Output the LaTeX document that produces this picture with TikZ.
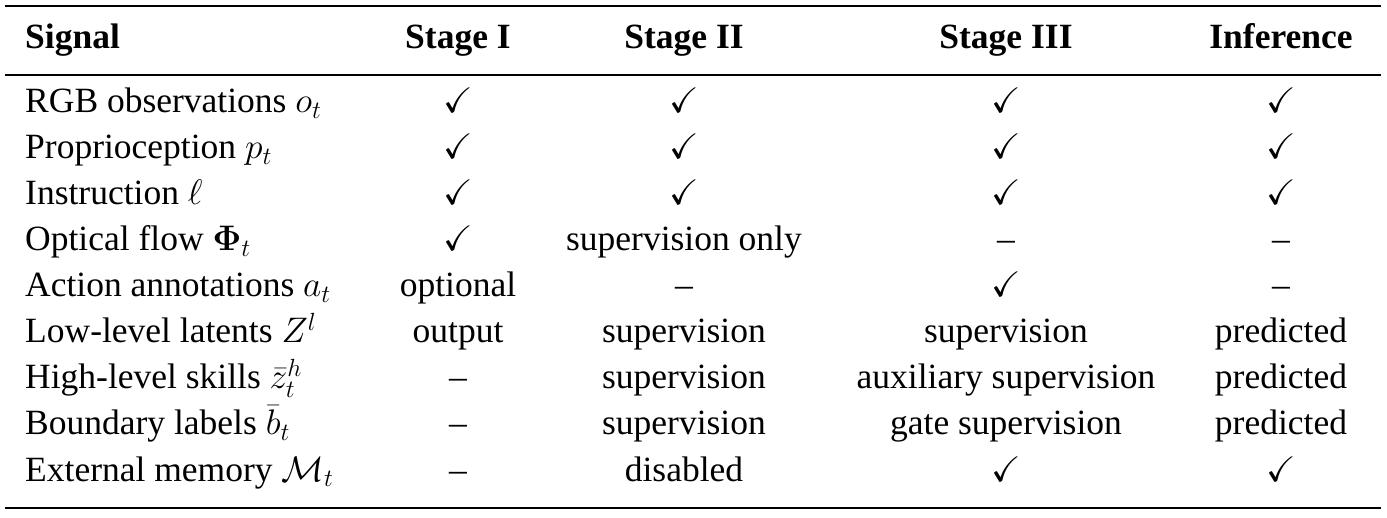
\RequirePackage{fix-cm}
\documentclass[tikz,border=0pt]{standalone}
\usepackage{amsmath,amssymb,bm}
\usepackage{fontspec}
\setmainfont{Liberation Serif}
\begin{document}
\begin{tikzpicture}[x=1pt,y=-1pt,
  every node/.style={font=\fontsize{35.5}{40}\selectfont,inner sep=0pt,anchor=base},
  lab/.style={anchor=base west},
  hd/.style={font=\fontsize{35.5}{40}\selectfont\bfseries}]
\useasboundingbox (0,0) rectangle (1387,518);
\draw[line width=2.6pt] (5,6) -- (1381,6);
\draw[line width=1.5pt] (5,75) -- (1381,75);
\draw[line width=2.6pt] (5,508) -- (1381,508);
\def\cA{458}\def\cB{684}\def\cC{1006}\def\cD{1281}
\node[hd,lab] (h0) at (25,49) {Signal};
\node[hd] (h1) at (\cA,49) {Stage I};
\node[hd] (h2) at (\cB,49) {Stage II};
\node[hd] (h3) at (\cC,49) {Stage III};
\node[hd] (h4) at (\cD,49) {Inference};
\foreach \y/\a/\b/\c/\d/\e [count=\i] in {
 113/{RGB observations $o_t$}/$\checkmark$/$\checkmark$/$\checkmark$/$\checkmark$,
 159/{Proprioception $p_t$}/$\checkmark$/$\checkmark$/$\checkmark$/$\checkmark$,
 205/{Instruction $\ell$}/$\checkmark$/$\checkmark$/$\checkmark$/$\checkmark$,
 251/{Optical flow $\bm{\Phi}_t$}/$\checkmark$/{supervision only}/–/–,
 297/{Action annotations $a_t$}/optional/–/$\checkmark$/–,
 343/{Low-level latents $Z^l$}/output/supervision/supervision/predicted,
 389/{High-level skills $\bar{z}_t^h$}/–/supervision/{auxiliary supervision}/predicted,
 435/{Boundary labels $\bar{b}_t$}/–/supervision/{gate supervision}/predicted,
 481/{External memory $\mathcal{M}_t$}/–/disabled/$\checkmark$/$\checkmark$}{
  \node[lab] (r\i a) at (25,\y) {\a};
  \node (r\i b) at (\cA,\y) {\b};
  \node (r\i c) at (\cB,\y) {\c};
  \node (r\i d) at (\cC,\y) {\d};
  \node (r\i e) at (\cD,\y) {\e};
}
\end{tikzpicture}
\end{document}
